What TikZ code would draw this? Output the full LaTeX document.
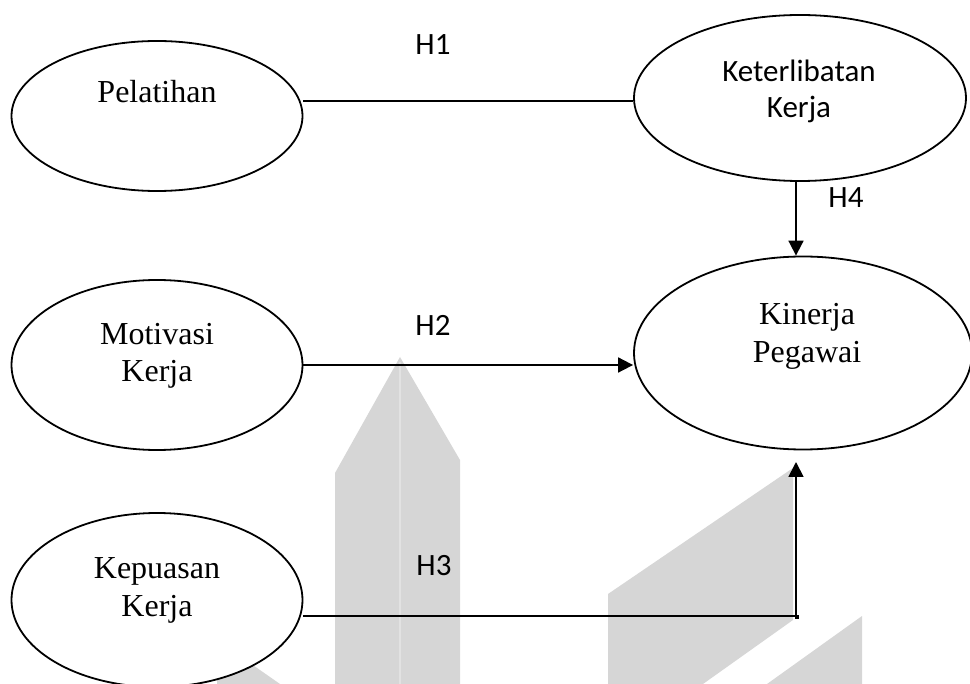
\documentclass[tikz,border=0pt]{standalone}
\usepackage{fontspec}
\setmainfont{Liberation Serif}
\newfontfamily\calibrif{Carlito}
\usetikzlibrary{shapes.geometric,arrows.meta}
\definecolor{markgray}{RGB}{214,214,214}
\definecolor{markline}{RGB}{226,226,226}
\begin{document}
\begin{tikzpicture}[x=1pt,y=-1pt,
  var/.style={draw,line width=1.8pt,ellipse,fill=white,inner sep=0pt},
  serlabel/.style={anchor=base,inner sep=0pt,font=\fontsize{32}{37}\selectfont},
  sanslabel/.style={anchor=base,inner sep=0pt,font=\calibrif\fontsize{31}{37}\selectfont},
  link/.style={line width=1.8pt},
  arrowlink/.style={line width=1.8pt,-{Triangle[length=15pt,width=15pt]}}]
\useasboundingbox (0,0) rectangle (970,684);

% faint logo shapes in the background
\fill[markgray] (335,684) -- (335,473) -- (400,357) -- (460,460) -- (460,684) -- cycle;
\draw[markline,line width=1.2pt] (400,362) -- (400,684);
\fill[markgray] (608,684) -- (608,594) -- (793,468) -- (793,620) -- (703,684) -- cycle;
\fill[markgray] (767,684) -- (862,616) -- (862,684) -- cycle;
\fill[markgray] (217,640) -- (280,684) -- (217,684) -- cycle;

% latent variables
\node[var,minimum width=291pt,minimum height=150pt] (pel) at (157,116) {};
\node[var,minimum width=332pt,minimum height=166pt] (ket) at (800,98) {};
\node[var,minimum width=291pt,minimum height=170pt] (mot) at (157,365) {};
\node[var,minimum width=338pt,minimum height=193pt] (kin) at (803,353) {};
\node[var,minimum width=291pt,minimum height=174pt] (kep) at (157,600) {};

% variable names
\node[serlabel] (pelA) at (157,103) {Pelatihan};
\node[sanslabel] (ketA) at (799,82) {Keterlibatan};
\node[sanslabel] (ketB) at (799,118) {Kerja};
\node[serlabel] (motA) at (157,345) {Motivasi};
\node[serlabel] (motB) at (157,382) {Kerja};
\node[serlabel] (kinA) at (807,325) {Kinerja};
\node[serlabel] (kinB) at (807,363) {Pegawai};
\node[serlabel] (kepA) at (157,579) {Kepuasan};
\node[serlabel] (kepB) at (157,616) {Kerja};

% hypothesis paths
\draw[link] ([yshift=15pt]pel.east) -- ([yshift=15pt]pel.east -| ket.west);
\draw[arrowlink] ([xshift=-4pt]ket.south) -- ([xshift=-4pt]ket.south |- kin.north);
\draw[arrowlink] (mot.east) -- (mot.east -| kin.west);
\coordinate (h3corner) at (796,616);
\coordinate (h3tip) at (796,462);
\draw[link] ([yshift=-16pt]kep.east) -- (h3corner);
\draw[arrowlink] (h3corner) -- (h3tip);
\fill (h3corner) ++(-1.5,-1.5) rectangle ++(4,4);

% path labels
\node[sanslabel] (h1) at (433,55) {H1};
\node[sanslabel] (h2) at (433,336) {H2};
\node[sanslabel] (h3) at (434,576) {H3};
\node[sanslabel] (h4) at (846,208) {H4};
\end{tikzpicture}
\end{document}
